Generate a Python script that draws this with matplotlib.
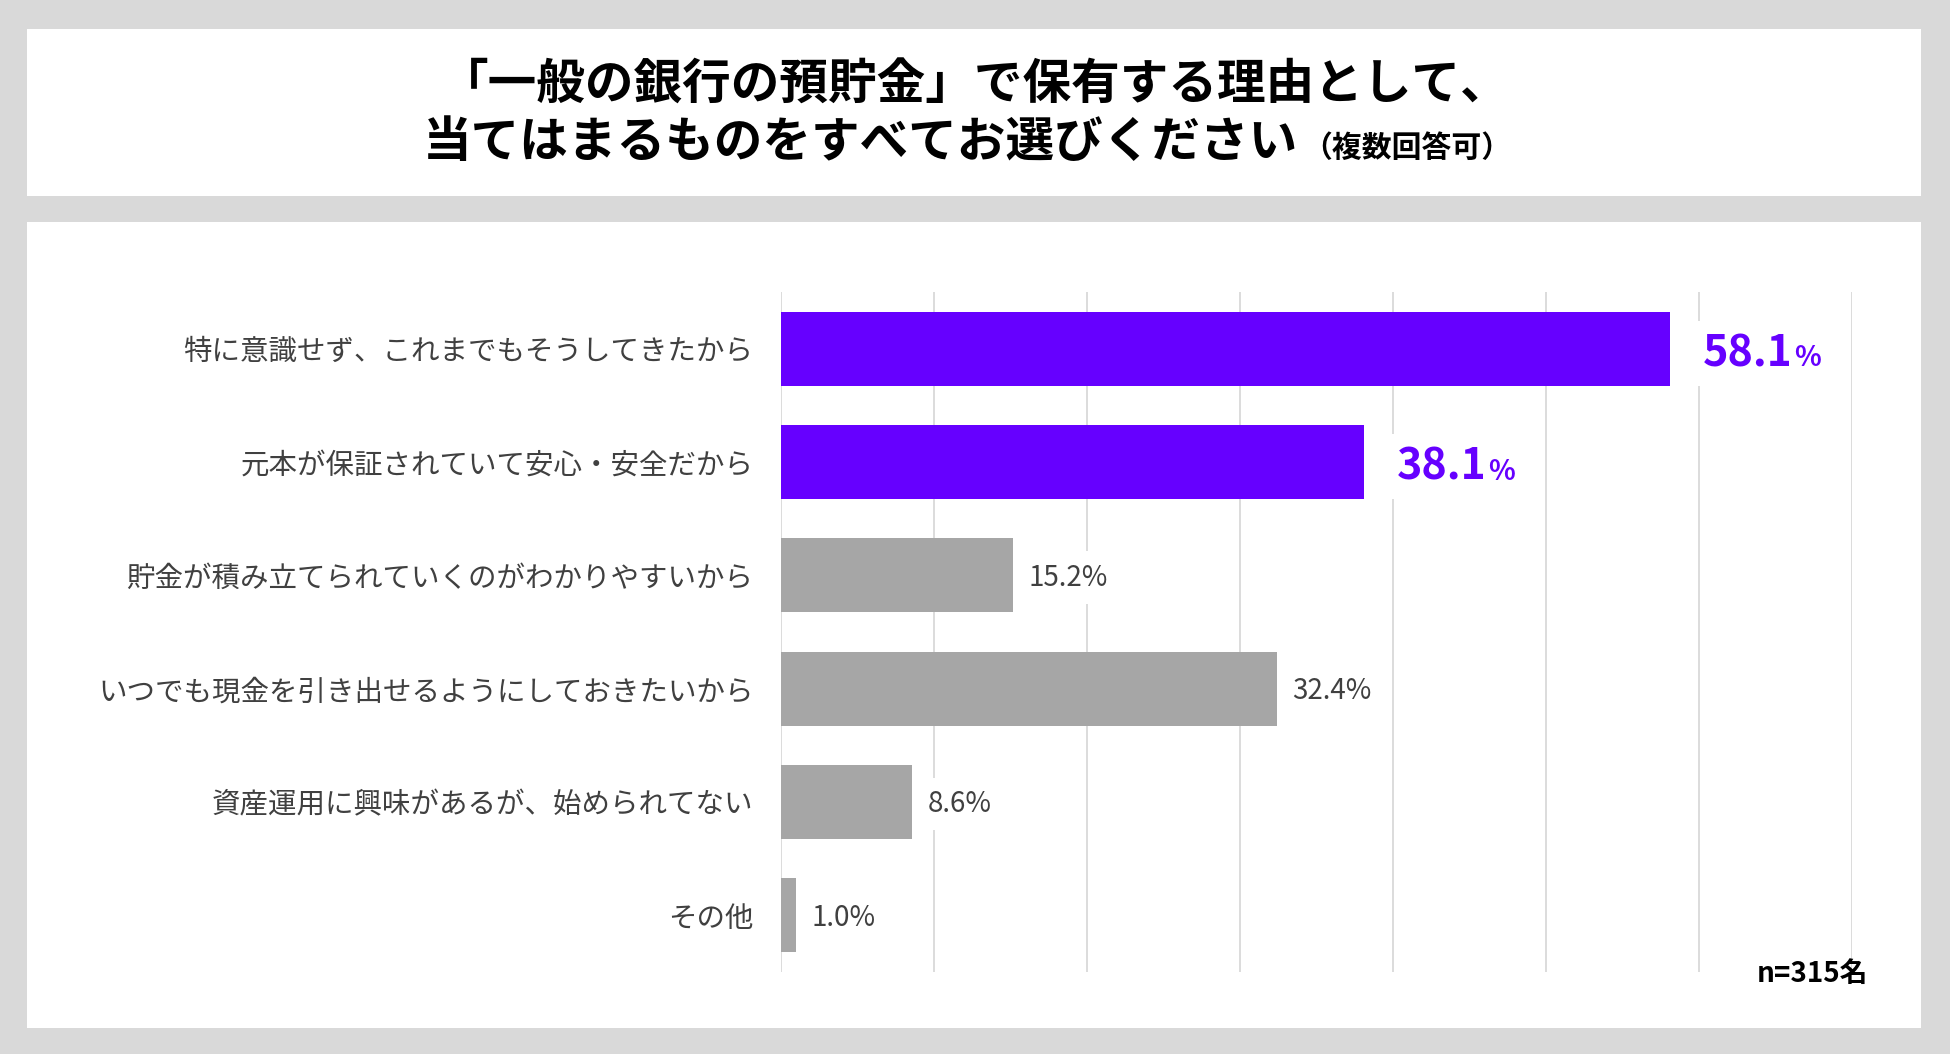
import matplotlib
matplotlib.use('Agg')
import matplotlib.pyplot as plt
from matplotlib.patches import Rectangle

plt.rcParams['font.family'] = ['Noto Sans CJK JP', 'DejaVu Sans']

# ---- data ----
title_line1 = "「一般の銀行の預貯金」で保有する理由として、"
title_line2 = "当てはまるものをすべてお選びください"
title_note = "（複数回答可）"
categories = [
    "特に意識せず、これまでもそうしてきたから",
    "元本が保証されていて安心・安全だから",
    "貯金が積み立てられていくのがわかりやすいから",
    "いつでも現金を引き出せるようにしておきたいから",
    "資産運用に興味があるが、始められてない",
    "その他",
]
values = [58.1, 38.1, 15.2, 32.4, 8.6, 1.0]
x_ticks = [0, 10, 20, 30, 40, 50, 60, 70]
sample_note = "n=315名"

# ---- style ----
W, H = 1950, 1054
PURPLE = '#6600ff'
GRAY_BAR = '#a6a6a6'
TEXT_GRAY = '#404040'
BG = '#d9d9d9'
n_highlight = 2

fig = plt.figure(figsize=(W / 100, H / 100), dpi=100)
fig.patch.set_facecolor(BG)


def panel(x0, y0, x1, y1):
    r = Rectangle((x0 / W, 1 - y1 / H), (x1 - x0) / W, (y1 - y0) / H,
                  transform=fig.transFigure, facecolor='white',
                  edgecolor='none', zorder=-5)
    fig.add_artist(r)


panel(27, 29, 1921, 196)
panel(27, 222, 1921, 1028)

ax = fig.add_axes([780.6 / W, 1 - 972 / H, (1852 - 780.6) / W, (972 - 292) / H])
ax.set_facecolor('none')

ypos = list(range(len(categories)))
colors = [PURPLE if i < n_highlight else GRAY_BAR for i in ypos]
ax.barh(ypos, values, height=0.655, color=colors, zorder=2)

ax.set_xlim(0, 70)
ax.set_ylim(5.5, -0.5)
ax.set_xticks(x_ticks)
ax.set_xticklabels([])
ax.grid(axis='x', color='#d9d9d9', linewidth=1.3, zorder=0)
ax.set_axisbelow(True)
for s in ax.spines.values():
    s.set_visible(False)
ax.set_yticks(ypos)
ax.set_yticklabels(categories, fontsize=20.5, color=TEXT_GRAY)
ax.tick_params(axis='both', length=0)
ax.tick_params(axis='y', pad=19.5)

num_texts = []
for i, v in enumerate(values):
    if i < n_highlight:
        t = ax.annotate(f"{v:.1f}", xy=(v, i + 0.156), xytext=(24, 0),
                        textcoords='offset points', va='baseline', ha='left',
                        fontsize=31, fontweight='bold', color=PURPLE, zorder=5,
                        bbox=dict(boxstyle='square,pad=0.25', fc='white', ec='none'))
        num_texts.append((i, v, t))
    else:
        ax.annotate(f"{v:.1f}%", xy=(v, i + 0.09), xytext=(11, 0),
                    textcoords='offset points', va='baseline', ha='left',
                    fontsize=20, color=TEXT_GRAY, zorder=5,
                    bbox=dict(boxstyle='square,pad=0.4', fc='white', ec='none'))

# titles
fig.text(0.5, 1 - 100 / H, title_line1, ha='center', va='baseline',
         fontsize=35, fontweight='bold', color='black')
t2 = fig.text(0, 1 - 157 / H, title_line2, ha='left', va='baseline',
              fontsize=35, fontweight='bold', color='black')
t3 = fig.text(0, 1 - 157 / H, title_note, ha='left', va='baseline',
              fontsize=21.5, fontweight='bold', color='black')

fig.text(1868 / W, 1 - 982 / H, sample_note, ha='right', va='baseline',
         fontsize=20, fontweight='bold', color='black')

fig.canvas.draw()
r = fig.canvas.get_renderer()
w2 = t2.get_window_extent(r).width
w3 = t3.get_window_extent(r).width
gap = 4
start = 967 - (w2 + gap + w3) / 2
t2.set_x(start / W)
t3.set_x((start + w2 + gap) / W)

inv = ax.transData.inverted()
for i, v, t in num_texts:
    bb = t.get_window_extent(r)
    xd = inv.transform((bb.x1 + 1, bb.y0))[0]
    ax.text(xd, i + 0.156, "%", va='baseline', ha='left', fontsize=20,
            fontweight='bold', color=PURPLE, zorder=6, clip_on=False,
            bbox=dict(boxstyle='square,pad=0.2', fc='white', ec='none'))

fig.savefig('out.png', dpi=100, facecolor=BG)
